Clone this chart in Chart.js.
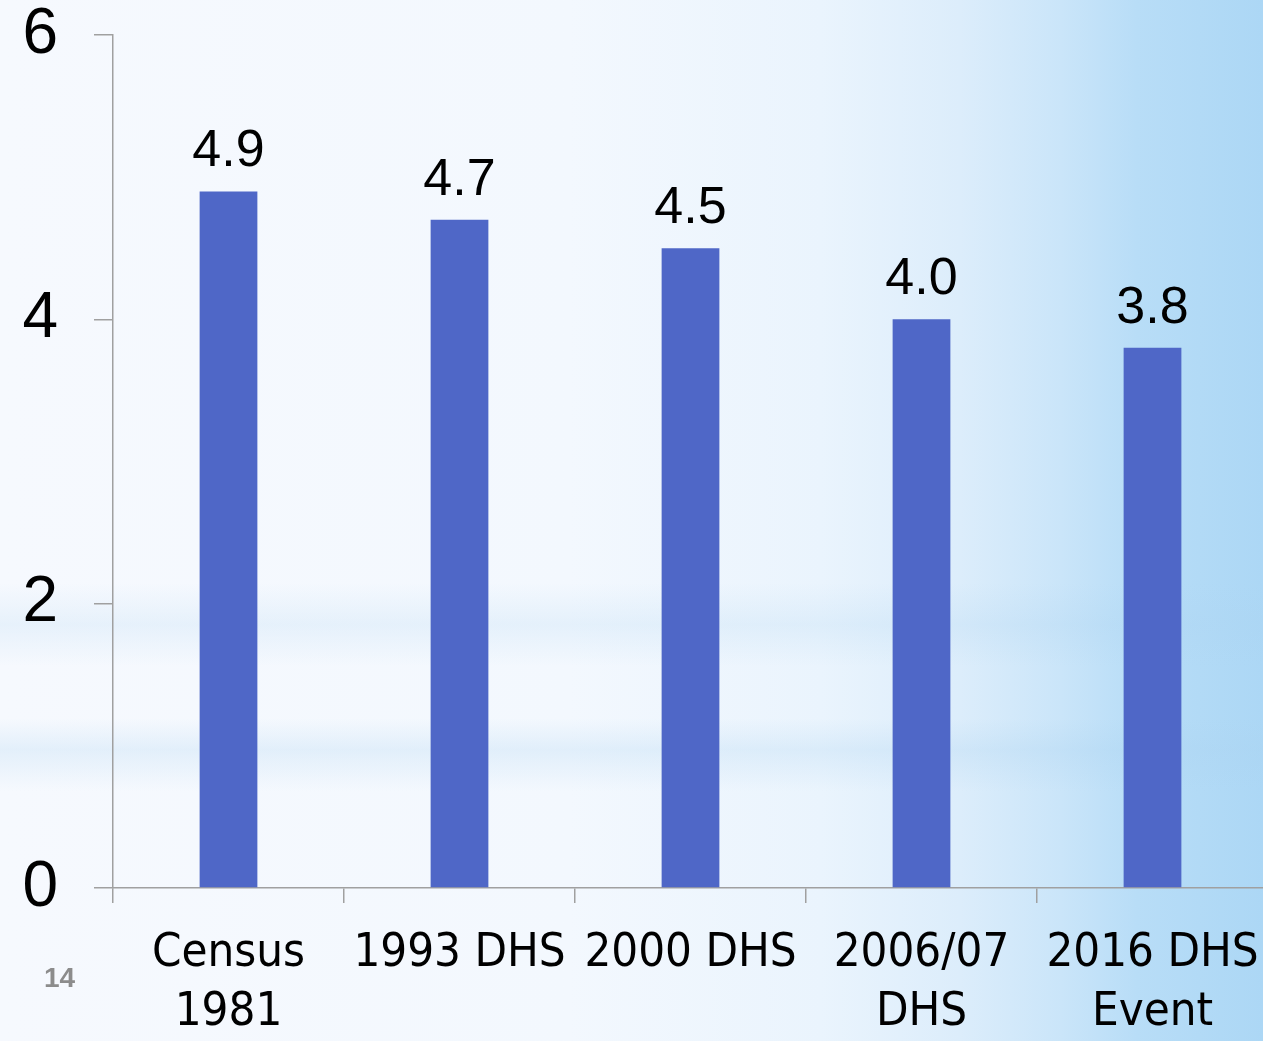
<!DOCTYPE html>
<html>
<head>
<meta charset="utf-8">
<script src="https://cdn.jsdelivr.net/npm/chart.js@4.4.0/dist/chart.umd.min.js"></script>
<style>
  html, body { margin: 0; padding: 0; }
  body {
    width: 1263px; height: 1041px; overflow: hidden; position: relative;
    background:
      linear-gradient(to bottom, rgba(255,255,255,0) 0%, rgba(255,255,255,0) 56%, rgba(170,210,240,0.2) 60%, rgba(255,255,255,0) 64%, rgba(255,255,255,0) 69%, rgba(170,210,240,0.25) 72%, rgba(255,255,255,0) 76%, rgba(255,255,255,0) 100%),
      linear-gradient(to right, #f6f9fe 0%, #f3f8fe 45%, #eaf4fd 65%, #dcedfb 76%, #cae5f9 84%, #b8ddf7 90%, #acd7f5 100%);
  }
  #wrap { position: absolute; left: 0; top: 0; width: 1268px; height: 1041px; }
  #slide { position: absolute; left: 44px; top: 962px; font: bold 28px "Liberation Sans", sans-serif; color: #8c8c8c; }
</style>
</head>
<body>
<div id="wrap"><canvas id="grafico"></canvas></div>
<div id="slide">14</div>
<script>
// datos del grafico
var categorias = [["Census", "1981"], "1993 DHS", "2000 DHS", ["2006/07", "DHS"], ["2016 DHS", "Event"]];
var valores = [4.9, 4.7, 4.5, 4.0, 3.8];
var etiquetas_y = [0, 2, 4, 6];

// etiquetas encima de cada barra
var etiquetasBarras = {
    id: 'etiquetasBarras',
    afterDatasetsDraw: function(chart) {
        var ctx = chart.ctx;
        var meta = chart.getDatasetMeta(0);
        ctx.save();
        ctx.font = '52px "Liberation Sans", sans-serif';
        ctx.fillStyle = '#000000';
        ctx.textAlign = 'center';
        ctx.textBaseline = 'alphabetic';
        meta.data.forEach(function(bar, i) {
            ctx.fillText(valores[i].toFixed(1), bar.x, bar.y - 25);
        });
        ctx.restore();
    }
};

var canvas = document.getElementById('grafico').getContext('2d');
window.bar = new Chart(canvas, {
    type: 'bar',
    data: {
        labels: categorias,
        datasets: [{
            data: valores,
            backgroundColor: '#4f67c7',
            barPercentage: 0.25,
            categoryPercentage: 1.0
        }]
    },
    options: {
        responsive: true,
        maintainAspectRatio: false,
        animation: false,
        layout: { padding: { left: 0, right: 0, top: 35, bottom: 0 } },
        plugins: {
            legend: { display: false },
            tooltip: { enabled: false }
        },
        scales: {
            x: {
                afterFit: function(axis) {
                    axis.height = 153;
                    axis.paddingLeft = 0;
                    axis.paddingRight = 0;
                },
                grid: {
                    drawOnChartArea: false,
                    color: '#a0a0a0',
                    lineWidth: 1.5,
                    tickLength: 15
                },
                border: { color: '#a0a0a0', width: 1.5 },
                ticks: {
                    color: '#000000',
                    padding: 21,
                    maxRotation: 0,
                    autoSkip: false,
                    font: { family: '"DejaVu Sans Condensed", sans-serif', size: 47, lineHeight: 1.26 }
                }
            },
            y: {
                min: 0,
                max: 6,
                afterBuildTicks: function(axis) {
                    axis.ticks = etiquetas_y.map(function(v) { return { value: v }; });
                },
                afterFit: function(axis) {
                    axis.width = 113;
                    axis.paddingTop = 0;
                    axis.paddingBottom = 0;
                },
                grid: {
                    drawOnChartArea: false,
                    color: '#a0a0a0',
                    lineWidth: 1.5,
                    tickLength: 19
                },
                border: { color: '#a0a0a0', width: 1.5 },
                ticks: {
                    color: '#000000',
                    padding: 36,
                    font: { family: '"Liberation Sans", sans-serif', size: 64, lineHeight: 1 }
                }
            }
        }
    },
    plugins: [etiquetasBarras]
});
</script>
</body>
</html>
